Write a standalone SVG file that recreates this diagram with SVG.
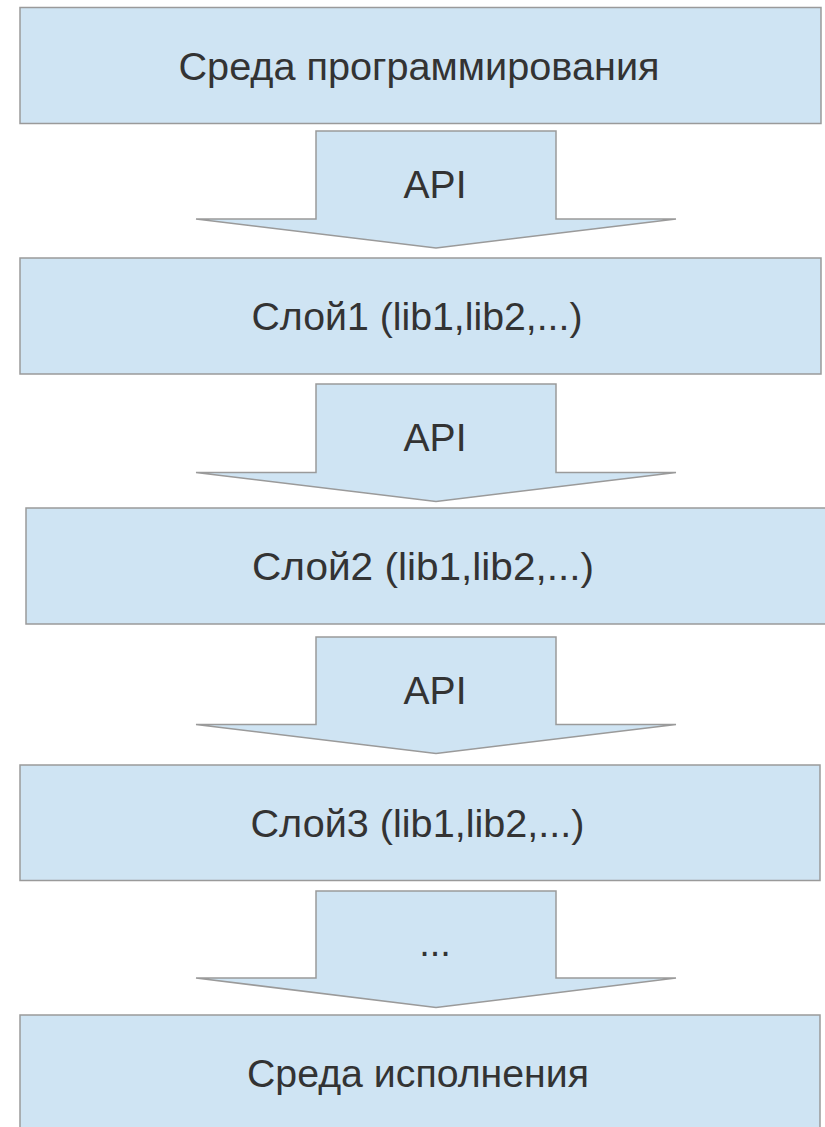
<svg xmlns="http://www.w3.org/2000/svg" width="825" height="1127" viewBox="0 0 825 1127">
<style>
.box{fill:#cfe4f3;stroke:#9a9a9a;stroke-width:1.5}
.arr{fill:#cfe4f3;stroke:#9a9a9a;stroke-width:1.5;stroke-linejoin:miter}
.t{font-family:"Liberation Sans",Arial,sans-serif;font-size:38px;fill:#333333;text-anchor:middle}
</style>
<rect width="825" height="1127" fill="#ffffff"/>
<g id="connectors">
<polygon class="arr" points="316,131 556,131 556,219 676,219 436,248 196,219 316,219"/>
<polygon class="arr" points="316,384 556,384 556,472.5 676,472.5 436,501.5 196,472.5 316,472.5"/>
<polygon class="arr" points="316,637 556,637 556,724.5 676,724.5 436,753.5 196,724.5 316,724.5"/>
<polygon class="arr" points="316,891 556,891 556,978 676,978 436,1007.5 196,978 316,978"/>
<text class="t" x="435" y="198" textLength="63" lengthAdjust="spacingAndGlyphs">API</text>
<text class="t" x="435" y="451" textLength="63" lengthAdjust="spacingAndGlyphs">API</text>
<text class="t" x="435" y="704" textLength="63" lengthAdjust="spacingAndGlyphs">API</text>
<text class="t" x="435" y="956">...</text>
</g>
<g id="node1">
<rect class="box" x="20" y="7.5" width="801" height="116"/>
<text class="t" x="419" y="80" textLength="481" lengthAdjust="spacingAndGlyphs">Среда программирования</text>
</g>
<g id="node2">
<rect class="box" x="20" y="258" width="801" height="116"/>
<text class="t" x="417" y="330" textLength="331" lengthAdjust="spacingAndGlyphs">Слой1 (lib1,lib2,...)</text>
</g>
<g id="node3">
<rect class="box" x="26" y="508" width="810" height="116"/>
<text class="t" x="423" y="580" textLength="342" lengthAdjust="spacingAndGlyphs">Слой2 (lib1,lib2,...)</text>
</g>
<g id="node4">
<rect class="box" x="20" y="765" width="800" height="115.5"/>
<text class="t" x="417.5" y="837" textLength="334" lengthAdjust="spacingAndGlyphs">Слой3 (lib1,lib2,...)</text>
</g>
<g id="node5">
<rect class="box" x="20" y="1015" width="800" height="130"/>
<text class="t" x="418" y="1087" textLength="342" lengthAdjust="spacingAndGlyphs">Среда исполнения</text>
</g>
</svg>
